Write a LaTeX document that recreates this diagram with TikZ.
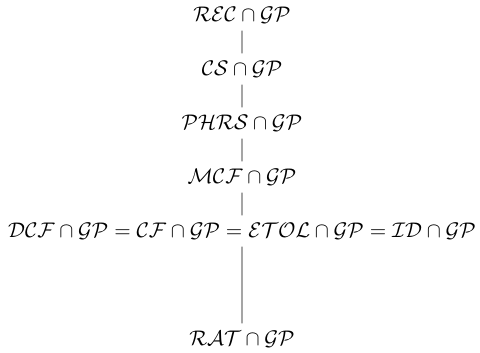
\documentclass[tikz,border=0pt]{standalone}
\usepackage{amsmath}
\begin{document}
\begin{tikzpicture}[x=0.5pt,y=-0.5pt,
  cls/.style={inner sep=3.3pt, scale=1.057, transform shape},
  link/.style={draw=black, line width=0.4pt}]
\useasboundingbox (0,0) rectangle (480,352);
\node[cls] (rec) at (242,15) {$\mathcal{REC}\cap\mathcal{GP}$};
\node[cls] (cs) at (242,69) {$\mathcal{CS}\cap\mathcal{GP}$};
\node[cls] (phrs) at (242,123) {$\mathcal{PHRS}\cap\mathcal{GP}$};
\node[cls] (mcf) at (242,177) {$\mathcal{MCF}\cap\mathcal{GP}$};
\node[cls] (dcf) at (242,231) {$\mathcal{DCF}\cap\mathcal{GP}=\mathcal{CF}\cap\mathcal{GP}=\mathcal{ETOL}\cap\mathcal{GP}=\mathcal{ID}\cap\mathcal{GP}$};
\node[cls] (rat) at (242,339) {$\mathcal{RAT}\cap\mathcal{GP}$};
\draw[link] (rec) -- (cs);
\draw[link] (cs) -- (phrs);
\draw[link] (phrs) -- (mcf);
\draw[link] (mcf) -- (dcf);
\draw[link] (dcf) -- (rat);
\end{tikzpicture}
\end{document}
